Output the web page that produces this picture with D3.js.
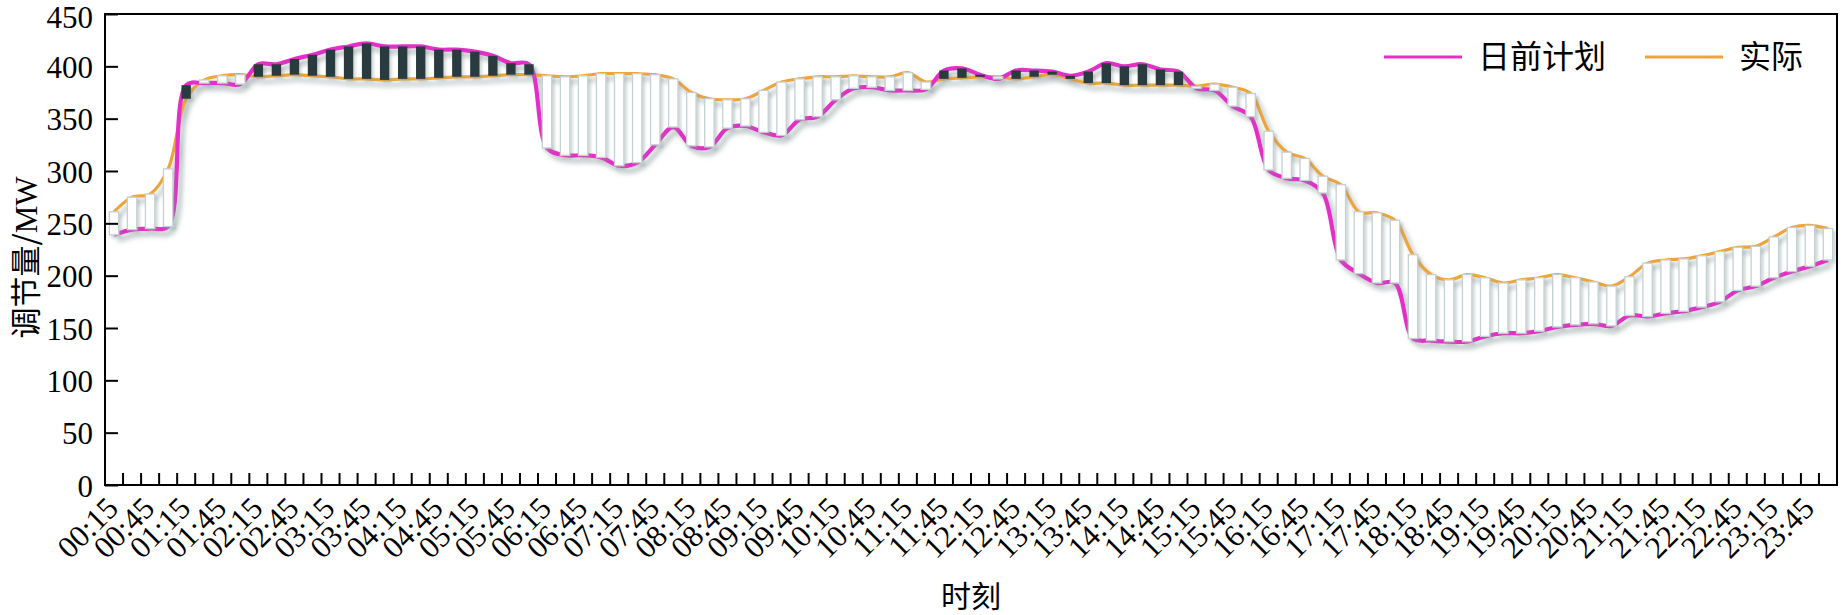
<!DOCTYPE html>
<html>
<head>
  <meta charset="utf-8">
  <title>日前计划与实际调节量</title>
  <script src="https://d3js.org/d3.v7.min.js"></script>
  <style>
    body { margin: 0; background: #fff; }
    svg { display: block; }
  </style>
</head>
<body>
<svg id="chart" width="1846" height="615"></svg>
<script>
// 96 quarter-hour points, 00:15 ... 24:00
const times = d3.range(1, 97).map(k => {
  const m = k * 15;
  return String(Math.floor(m / 60)).padStart(2, "0") + ":" + String(m % 60).padStart(2, "0");
});
// only every other time is labelled on the axis
const tickLabels = times.filter((d, i) => i % 2 === 0);

const yTicks = [0, 50, 100, 150, 200, 250, 300, 350, 400, 450];

// 日前计划 (day-ahead plan), MW
const plan = [
  239, 244, 245, 247, 382, 384, 384, 383, 402, 402, 407, 411, 416, 419, 422, 419,
  419, 419, 416, 416, 414, 410, 403, 402, 322, 315, 315, 313, 305, 308, 325, 342,
  324, 323, 341, 343, 337, 334, 349, 352, 368, 379, 380, 377, 377, 378, 396, 398,
  392, 388, 396, 396, 395, 391, 395, 403, 400, 402, 397, 395, 379, 377, 362, 352,
  301, 293, 291, 279, 215, 202, 193, 193, 140, 138, 137, 137, 142, 145, 145, 147,
  151, 153, 154, 152, 162, 161, 164, 166, 170, 175, 186, 190, 198, 204, 209, 215
];

// 实际 (actual), MW
const actual = [
  261, 275, 278, 302, 369, 387, 391, 392, 390, 391, 392, 391, 390, 388, 388, 387,
  388, 388, 389, 390, 390, 391, 392, 392, 391, 390, 391, 393, 393, 393, 392, 388,
  375, 369, 368, 369, 377, 385, 388, 390, 390, 391, 390, 390, 394, 385, 388, 389,
  390, 390, 388, 390, 392, 388, 384, 384, 382, 382, 382, 382, 381, 383, 380, 374,
  338, 318, 312, 295, 287, 261, 260, 253, 220, 201, 196, 201, 198, 193, 196, 198,
  201, 198, 194, 190, 199, 212, 215, 216, 219, 223, 227, 228, 237, 246, 248, 245
];

const seriesNames = ["日前计划", "实际"];
const seriesColors = ["#e42fc8", "#eca53a"];

const plotL = 105, plotR = 1837, plotT = 14, plotB = 485;
const latin = "'Liberation Serif', 'Times New Roman', serif";
const cjk = "'Noto Sans CJK SC', sans-serif";

const svg = d3.select("#chart");

const x = d3.scaleBand().domain(times).range([plotL, plotR]).padding(0);
const y = d3.scaleLinear().domain([0, 450]).range([plotB, plotT]);
const cx = d => x(d) + x.bandwidth() / 2;

// soft grey drop shadows like the office chart
const defs = svg.append("defs");
const f = defs.append("filter").attr("id", "shadow")
  .attr("x", "-20%").attr("y", "-20%").attr("width", "140%").attr("height", "140%");
f.append("feDropShadow")
  .attr("dx", 4).attr("dy", 5).attr("stdDeviation", 2.5)
  .attr("flood-color", "#6f8585").attr("flood-opacity", 0.55);
const fb = defs.append("filter").attr("id", "barShadow")
  .attr("x", "-20%").attr("y", "-20%").attr("width", "140%").attr("height", "140%");
fb.append("feDropShadow")
  .attr("dx", 2.5).attr("dy", 3).attr("stdDeviation", 1.3)
  .attr("flood-color", "#7f9393").attr("flood-opacity", 0.35);

// lines
const line = d3.line()
  .x((d, i) => cx(times[i]))
  .y(d => y(d))
  .curve(d3.curveCatmullRom.alpha(0.5));

const lines = svg.append("g").attr("filter", "url(#shadow)");
lines.append("path")
  .datum(actual)
  .attr("d", line)
  .attr("fill", "none")
  .attr("stroke", seriesColors[1])
  .attr("stroke-width", 3.2);
lines.append("path")
  .datum(plan)
  .attr("d", line)
  .attr("fill", "none")
  .attr("stroke", seriesColors[0])
  .attr("stroke-width", 4.2);

// up / down bars between plan and actual
const barW = x.bandwidth() * 0.52;
svg.append("g").attr("filter", "url(#barShadow)")
  .selectAll("rect")
  .data(times)
  .join("rect")
  .attr("x", d => cx(d) - barW / 2)
  .attr("y", (d, i) => y(Math.max(plan[i], actual[i])))
  .attr("width", barW)
  .attr("height", (d, i) => Math.abs(y(plan[i]) - y(actual[i])))
  .attr("fill", (d, i) => plan[i] > actual[i] ? "#2c3a40" : "#ffffff")
  .attr("stroke", (d, i) => plan[i] > actual[i] ? "none" : "#c6d0d2")
  .attr("stroke-width", 1.3);

// frame
svg.append("rect")
  .attr("x", plotL).attr("y", plotT)
  .attr("width", plotR - plotL).attr("height", plotB - plotT)
  .attr("fill", "none")
  .attr("stroke", "#000")
  .attr("stroke-width", 2);

// y axis, ticks pointing inward
const yAxis = svg.append("g")
  .attr("transform", `translate(${plotL},0)`)
  .call(d3.axisLeft(y).tickValues(yTicks).tickSizeInner(-13).tickSizeOuter(0).tickPadding(12));
yAxis.select(".domain").remove();
yAxis.selectAll(".tick line").attr("stroke", "#000").attr("stroke-width", 2);
yAxis.selectAll("text")
  .attr("font-family", latin).attr("font-size", 31).attr("fill", "#000")
  .attr("dy", d => d === 450 ? "0.45em" : "0.36em");

// x tick marks at category boundaries
svg.append("g")
  .selectAll("line")
  .data(times.slice(1))
  .join("line")
  .attr("x1", d => x(d)).attr("x2", d => x(d))
  .attr("y1", plotB).attr("y2", plotB - 12)
  .attr("stroke", "#000").attr("stroke-width", 2);

// x labels, rotated
const xAxis = svg.append("g")
  .attr("transform", `translate(0,${plotB})`)
  .call(d3.axisBottom(x).tickValues(tickLabels).tickSize(0).tickPadding(0));
xAxis.select(".domain").remove();
xAxis.selectAll("text")
  .attr("font-family", latin).attr("font-size", 31).attr("fill", "#000")
  .attr("text-anchor", "end")
  .attr("dy", null).attr("y", 0)
  .attr("transform", "translate(6,25) rotate(-45)");

// axis titles
svg.append("text")
  .attr("transform", `translate(37,${(plotT + plotB) / 2 + 8}) rotate(-90)`)
  .attr("text-anchor", "middle")
  .attr("font-family", cjk).attr("font-size", 31)
  .selectAll("tspan")
  .data([["调节量/", cjk], ["MW", latin]])
  .join("tspan")
  .attr("font-family", d => d[1])
  .text(d => d[0]);

svg.append("text")
  .attr("x", (plotL + plotR) / 2).attr("y", 607)
  .attr("text-anchor", "middle")
  .attr("font-family", cjk).attr("font-size", 30)
  .text("时刻");

// legend
const legendX = [1384, 1645];
const legend = svg.append("g");
seriesNames.forEach((name, i) => {
  legend.append("line")
    .attr("x1", legendX[i]).attr("x2", legendX[i] + 78)
    .attr("y1", 57).attr("y2", 57)
    .attr("stroke", seriesColors[i]).attr("stroke-width", 3);
  legend.append("text")
    .attr("x", legendX[i] + 94).attr("y", 57)
    .attr("dy", "0.35em")
    .attr("font-family", cjk).attr("font-size", 32)
    .text(name);
});
</script>
</body>
</html>
